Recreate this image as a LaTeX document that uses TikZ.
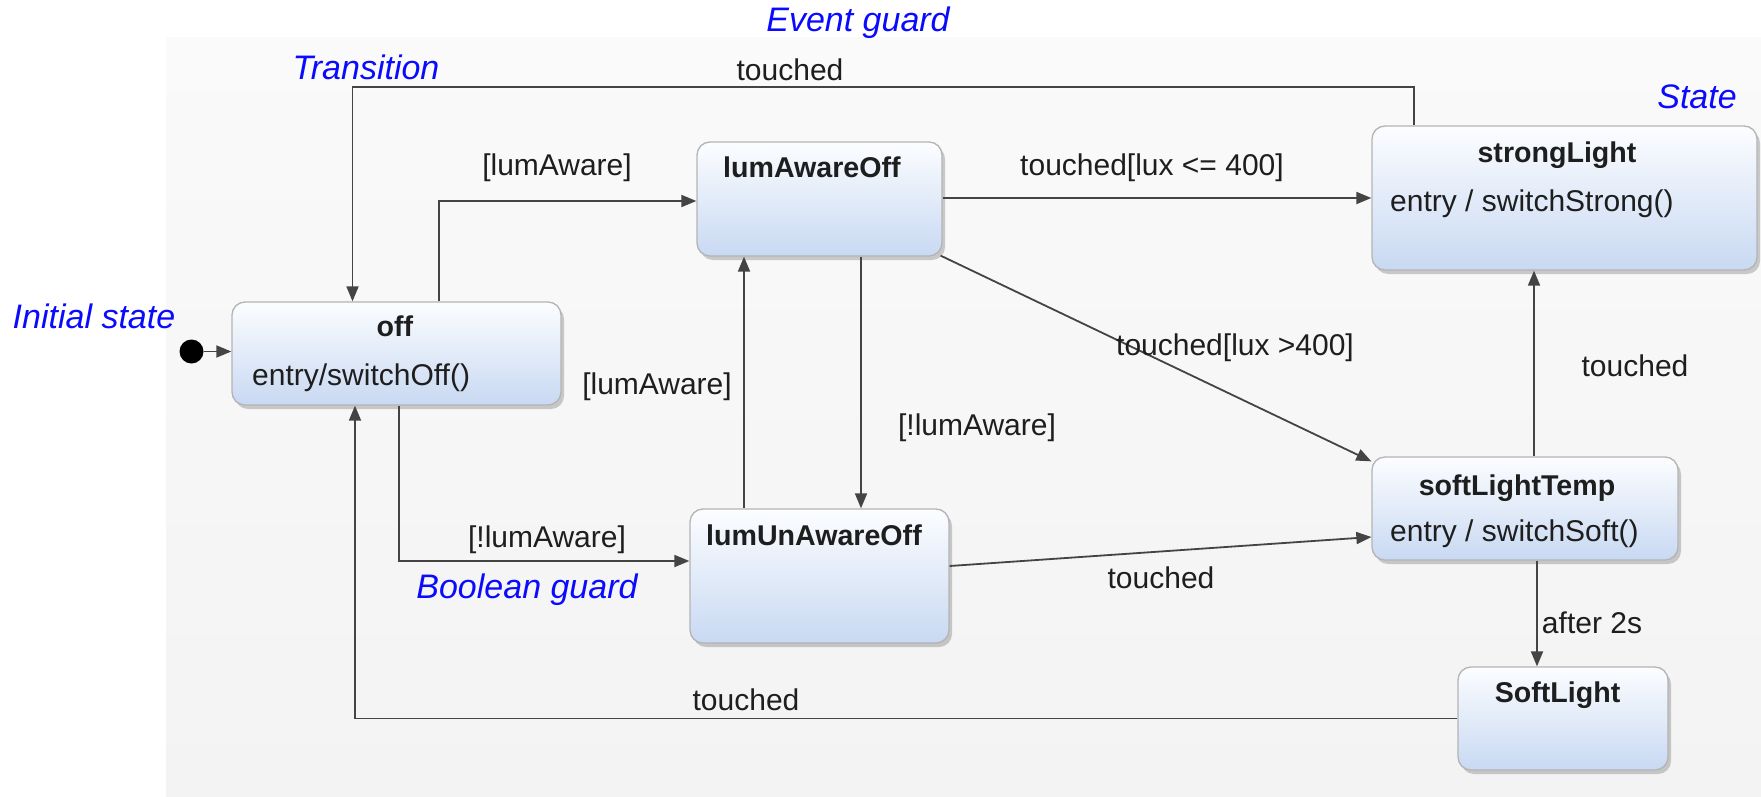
\documentclass[tikz,border=0pt]{standalone}
\usepackage{fontspec}
\setmainfont{Liberation Sans}
\usetikzlibrary{arrows.meta,shadows}
\definecolor{edgecol}{HTML}{444444}
\definecolor{bgtop}{HTML}{FAFAFA}
\definecolor{bgbot}{HTML}{F3F3F3}
\definecolor{statetop}{HTML}{FCFDFF}
\definecolor{statebot}{HTML}{C8D9F2}
\definecolor{stateborder}{HTML}{B4B4B4}
\definecolor{notecol}{HTML}{0A0AFF}
\definecolor{textcol}{HTML}{1E1E1E}
\begin{document}
\begin{tikzpicture}[x=1pt,y=-1pt,
  state/.style={draw=stateborder, line width=1.3pt, rounded corners=13pt,
    top color=statetop, bottom color=statebot, inner sep=0pt,
    drop shadow={shadow xshift=3pt, shadow yshift=-4pt, fill=black!50, opacity=0.4}},
  lbl/.style={inner sep=0pt, font=\fontsize{30}{35}\selectfont, text=textcol,
    text height=21.5pt, text depth=0pt},
  ttl/.style={inner sep=0pt, font=\fontsize{28.6}{34}\selectfont\bfseries, text=textcol,
    text height=20.5pt, text depth=0pt},
  note/.style={inner sep=0pt, font=\fontsize{34}{40}\selectfont\itshape, text=notecol,
    text height=24pt, text depth=0pt},
  tr/.style={draw=edgecol, line width=1.8pt, -{Triangle[length=15pt,width=12pt]}}
]
\useasboundingbox (0,0) rectangle (1761,797);
\shade[top color=bgtop, bottom color=bgbot] (166,38) rectangle (1761,797);

% states
\node[state, minimum width=329pt, minimum height=103pt] (off) at (396.5,353.5) {};
\node[state, minimum width=245pt, minimum height=114pt] (lumAwareOff) at (819.5,199) {};
\node[state, minimum width=385pt, minimum height=144pt] (strongLight) at (1564.5,198) {};
\node[state, minimum width=259pt, minimum height=134pt] (lumUnAwareOff) at (819.5,576) {};
\node[state, minimum width=306pt, minimum height=103pt] (softLightTemp) at (1525,508.5) {};
\node[state, minimum width=210pt, minimum height=103pt] (SoftLight) at (1563,718.5) {};

% state texts
\node[ttl] (offT) at (395,326.5) {off};
\node[lbl, anchor=west] (offE) at (252,375) {entry/switchOff()};
\node[ttl, anchor=west] (lumAwareOffT) at (723,167.5) {lumAwareOff};
\node[ttl] (strongLightT) at (1557,152.5) {strongLight};
\node[lbl, anchor=west] (strongLightE) at (1390,200.5) {entry / switchStrong()};
\node[ttl, anchor=west] (lumUnAwareOffT) at (706,535) {lumUnAwareOff};
\node[ttl] (softLightTempT) at (1517,485) {softLightTemp};
\node[lbl, anchor=west] (softLightTempE) at (1390,531) {entry / switchSoft()};
\node[ttl] (SoftLightT) at (1557.5,692.5) {SoftLight};

% initial state
\node[circle, fill=black, inner sep=0pt, minimum size=24pt] (init) at (191.5,351.5) {};
\draw[tr] (init) -- (init -| off.west);

% transitions
\draw[tr] ([xshift=42.5pt]off.north) |- ([yshift=-2pt]lumAwareOff.west);
\draw[tr] ([xshift=2.5pt]off.south) |- ([yshift=15pt]lumUnAwareOff.west);
\draw[tr] ([xshift=-150.5pt]strongLight.north) -- ++(0,-38) -| ([xshift=-44pt]off.north);
\draw[tr] (SoftLight.west) -| ([xshift=-41.5pt]off.south);
\draw[tr] ([yshift=1pt]lumAwareOff.east) -- ([yshift=1pt]lumAwareOff.east -| strongLight.west);
\draw[tr] ([shift={(-2pt,1pt)}]lumAwareOff.south east) -- ([yshift=-5pt]softLightTemp.north west);
\draw[tr] ([xshift=41.5pt]lumAwareOff.south) -- ([xshift=41.5pt]lumAwareOff.south |- lumUnAwareOff.north);
\draw[tr] ([xshift=-75.5pt]lumUnAwareOff.north) -- ([xshift=-75.5pt]lumUnAwareOff.north |- lumAwareOff.south);
\draw[tr] ([yshift=10pt]lumUnAwareOff.east) -- ([yshift=-28.5pt]softLightTemp.west);
\draw[tr] ([xshift=9pt]softLightTemp.north) -- ([xshift=9pt]softLightTemp.north |- strongLight.south);
\draw[tr] ([xshift=12pt]softLightTemp.south) -- ([xshift=12pt]softLightTemp.south |- SoftLight.north);

% transition labels
\node[lbl] (l1) at (790,70) {touched};
\node[lbl] (l2) at (557,165) {[lumAware]};
\node[lbl] (l3) at (1152,165) {touched[lux <= 400]};
\node[lbl] (l4) at (1235,345) {touched[lux >400]};
\node[lbl] (l5) at (657,384) {[lumAware]};
\node[lbl] (l6) at (977,425) {[!lumAware]};
\node[lbl] (l7) at (1635,366) {touched};
\node[lbl] (l8) at (547,537) {[!lumAware]};
\node[lbl] (l9) at (1161,578) {touched};
\node[lbl] (l10) at (1592,623) {after 2s};
\node[lbl] (l11) at (746,700) {touched};

% annotations
\node[note] (n1) at (858,20) {Event guard};
\node[note] (n2) at (366,68) {Transition};
\node[note] (n3) at (1697,97) {State};
\node[note] (n4) at (94,316) {Initial state};
\node[note] (n5) at (527,586) {Boolean guard};
\end{tikzpicture}
\end{document}
